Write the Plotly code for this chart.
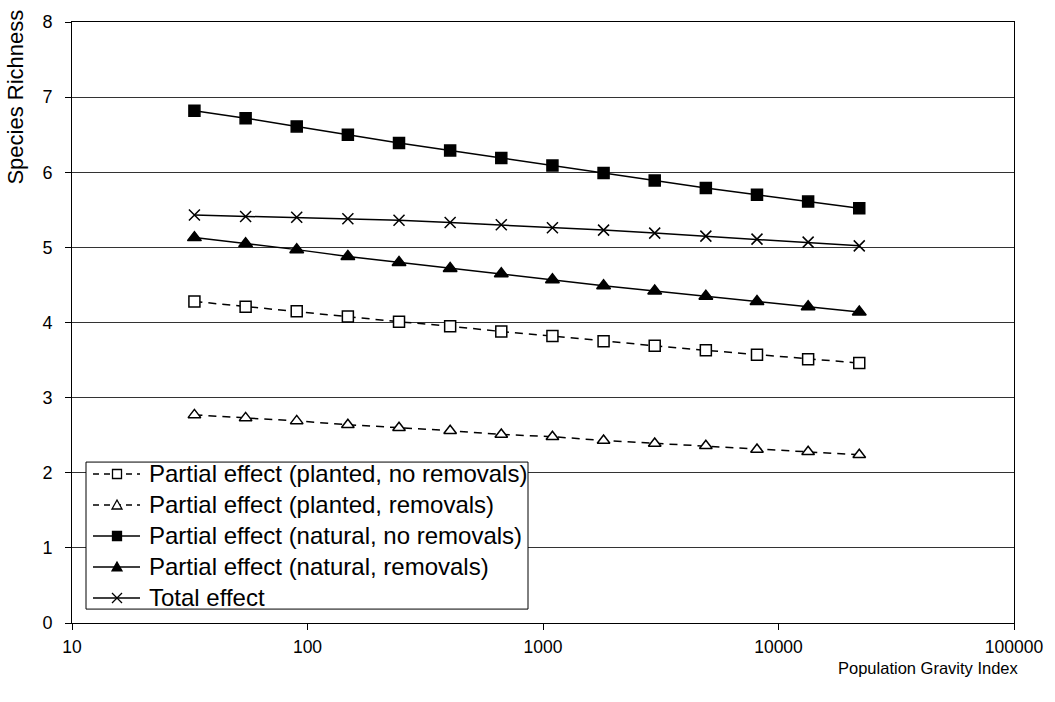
import plotly.graph_objects as go

# x values: population gravity index (log scale)
gravity = [33.1, 54.6, 90.0, 148.4, 244.7, 403.4, 665.1, 1096.6,
           1808.0, 2981.0, 4914.8, 8103.1, 13359.7, 22026.5]

planted_no_removals = [4.28, 4.21, 4.15, 4.08, 4.01, 3.95, 3.88, 3.82,
                       3.75, 3.69, 3.63, 3.57, 3.51, 3.46]
planted_removals = [2.77, 2.73, 2.69, 2.64, 2.60, 2.56, 2.51, 2.48,
                    2.43, 2.39, 2.36, 2.31, 2.28, 2.24]
natural_no_removals = [6.82, 6.72, 6.61, 6.50, 6.39, 6.29, 6.19, 6.09,
                       5.99, 5.89, 5.79, 5.70, 5.61, 5.52]
natural_removals = [5.13, 5.05, 4.97, 4.88, 4.80, 4.72, 4.65, 4.57,
                    4.49, 4.42, 4.35, 4.28, 4.21, 4.14]
total_effect = [5.43, 5.41, 5.40, 5.38, 5.36, 5.33, 5.30, 5.26,
                5.23, 5.19, 5.15, 5.11, 5.07, 5.02]

x_ticks = [10, 100, 1000, 10000, 100000]
x_tick_labels = ["10", "100", "1000", "10000", "100000"]
y_ticks = [0, 1, 2, 3, 4, 5, 6, 7, 8]

# name, values, symbol, fill, dash, size
series = [
    ("Partial effect (planted, no removals)", planted_no_removals, "square", "white", "8px,6px", 11),
    ("Partial effect (planted, removals)", planted_removals, "triangle-up", "white", "8px,6px", 11),
    ("Partial effect (natural, no removals)", natural_no_removals, "square", "black", "solid", 11),
    ("Partial effect (natural, removals)", natural_removals, "triangle-up", "black", "solid", 12),
    ("Total effect", total_effect, "x-thin-open", "black", "solid", 11),
]

FONT = "Liberation Sans, Arial, sans-serif"

# plot area geometry in px (for paper-coordinate conversion of annotations)
L, R, T, B = 72, 41, 18, 79
W, H = 1055, 702
PW, PH = W - L - R, H - T - B


def px_x(px):
    return (px - L) / PW


def px_y(py):
    return (H - B - py) / PH


fig = go.Figure()
for i, (name, vals, sym, fill, dash, size) in enumerate(series):
    fig.add_trace(go.Scatter(
        x=gravity, y=vals, name=name, mode="lines+markers", showlegend=False,
        line=dict(color="black", width=1.5, dash=dash),
        marker=dict(symbol=sym, size=size, color=fill,
                    line=dict(color="black", width=1.5)),
    ))

# ---- hand-drawn legend box (matches the boxed Excel-style legend) ----
LEG_X0, LEG_X1, LEG_Y0, LEG_Y1 = 86, 528, 461, 609
ROW0, ROW_STEP = 473, 31.2
SAMPLE_X0, SAMPLE_X1, MARK_X, TEXT_X = 93, 140, 117, 147

shapes = [dict(type="rect", xref="paper", yref="paper",
               x0=px_x(LEG_X0), x1=px_x(LEG_X1), y0=px_y(LEG_Y1), y1=px_y(LEG_Y0),
               line=dict(color="black", width=1), fillcolor="white", layer="above")]
annotations = []

marker_paths = {
    "square": "M-4.5,-4.5L4.5,-4.5L4.5,4.5L-4.5,4.5Z",
    "triangle-up": "M-5,-4L5,-4L0,5Z",
    "x-thin-open": "M-5,-5L5,5M-5,5L5,-5",
}

for i, (name, vals, sym, fill, dash, size) in enumerate(series):
    yc = ROW0 + ROW_STEP * i
    shapes.append(dict(type="line", xref="paper", yref="paper",
                       x0=px_x(SAMPLE_X0), x1=px_x(SAMPLE_X1), y0=px_y(yc), y1=px_y(yc),
                       line=dict(color="black", width=1.5,
                                 dash="6px,5px" if dash != "solid" else "solid"),
                       layer="above"))
    shapes.append(dict(type="path", xref="paper", yref="paper",
                       xsizemode="pixel", ysizemode="pixel",
                       xanchor=px_x(MARK_X), yanchor=px_y(yc),
                       path=marker_paths[sym],
                       fillcolor=fill if sym != "x-thin-open" else "rgba(0,0,0,0)",
                       line=dict(color="black", width=1.3), layer="above"))
    annotations.append(dict(text=name, xref="paper", yref="paper",
                            x=px_x(TEXT_X), y=px_y(yc), xanchor="left", yanchor="middle",
                            showarrow=False, font=dict(family=FONT, size=24, color="black")))

annotations += [
    dict(text="Species Richness", xref="paper", yref="paper",
         x=px_x(16), y=px_y(4), xanchor="center", yanchor="top",
         textangle=-90, showarrow=False, font=dict(family=FONT, size=22)),
    dict(text="Population Gravity Index", xref="paper", yref="paper",
         x=px_x(1021), y=px_y(668), xanchor="right", yanchor="middle",
         showarrow=False, font=dict(family=FONT, size=16.5)),
]

fig.update_layout(
    width=W, height=H,
    margin=dict(l=L, r=R, t=T, b=B),
    paper_bgcolor="white", plot_bgcolor="white",
    font=dict(family=FONT, size=17, color="black"),
    showlegend=False,
    shapes=shapes,
    annotations=annotations,
    xaxis=dict(
        type="log", range=[1, 5], tickvals=x_ticks, ticktext=x_tick_labels,
        showgrid=False, zeroline=False,
        showline=True, linecolor="black", linewidth=1, mirror=True,
        ticks="outside", ticklen=6, tickcolor="black",
        ticklabelstandoff=2,
        tickfont=dict(family=FONT, size=17.5),
    ),
    yaxis=dict(
        range=[0, 8], tickvals=y_ticks, showgrid=True, gridcolor="#333333", gridwidth=1,
        zeroline=False,
        showline=True, linecolor="black", linewidth=1, mirror=True,
        ticks="outside", ticklen=6, tickcolor="black",
        ticklabelstandoff=9,
        tickfont=dict(family=FONT, size=18),
    ),
)

fig.write_html("out.html")
